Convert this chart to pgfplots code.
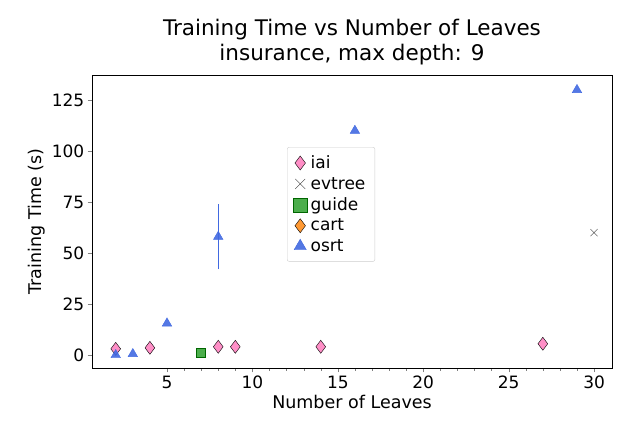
\documentclass[border=0pt]{standalone}
\usepackage{pgfplots}
\pgfplotsset{compat=1.18}
\usepackage{fontspec}
\setmainfont{DejaVu Sans}
\definecolor{royal}{RGB}{65,105,225}
\definecolor{hpink}{RGB}{255,105,180}
\begin{document}
\begin{tikzpicture}
\path (-92pt,-72pt) rectangle (548pt,368pt);
\begin{axis}[
  at={(0pt,0pt)}, anchor=south west, scale only axis,
  width=520pt, height=293pt,
  xmin=0.61, xmax=31.05, ymin=-6.4, ymax=137.3,
  xtick={5,10,15,20,25,30}, minor x tick num=4,
  ytick={0,25,50,75,100,125},
  tick label style={font=\fontsize{17}{20}\selectfont},
  label style={font=\fontsize{17.5}{21}\selectfont},
  /pgf/number format/assume math mode=true,
  xlabel={Number of Leaves}, ylabel={Training Time (s)},
  title={Training Time vs Number of Leaves\\insurance, max depth: 9},
  title style={font=\fontsize{21.5}{25}\selectfont, align=center},
  tick align=outside, xtick pos=bottom, ytick pos=left,
  legend style={at={(0.375,0.754)}, anchor=north west, font=\fontsize{17}{24}\selectfont, draw=black!20, rounded corners=2pt, inner xsep=6pt, inner ysep=5pt, nodes={inner sep=3.5pt}},
  legend cell align=left, legend image post style={mark size=7pt},
  legend image code/.code={\draw[#1] plot coordinates {(0.4cm,0cm)};},
]
\addplot[only marks, mark=diamond*, mark size=6.5pt, draw=none, fill=hpink, fill opacity=0.75, mark options={draw=none}] coordinates {(2,3)(4,3.5)(8,4)(9,4)(14,4)(27,5.5)};
\addlegendentry{iai}
\addplot[only marks, mark=x, mark size=5pt, black!80, thin] coordinates {(30,60)};
\addlegendentry{evtree}
\addplot[only marks, mark=square*, mark size=4.5pt, draw=green!40!black, fill=green!55!black, fill opacity=0.7] coordinates {(7,1)};
\addlegendentry{guide}
\addplot[only marks, mark=diamond*, mark size=6.5pt, draw=none, fill=orange, fill opacity=0.8, mark options={draw=none}] coordinates {(40,0)};
\addlegendentry{cart}
\addplot[only marks, mark=triangle*, mark size=5.5pt, color=royal, fill=royal, fill opacity=0.9,
  error bars/.cd, y dir=both, y explicit, error mark=none] coordinates {(2,0)+-(0,0)(3,0.5)+-(0,0)(5,15.5)+-(0,0)(8,58)+-(0,16)(16,110)+-(0,0)(29,130)+-(0,0)};
\addlegendentry{osrt}
\end{axis}
\end{tikzpicture}
\end{document}
